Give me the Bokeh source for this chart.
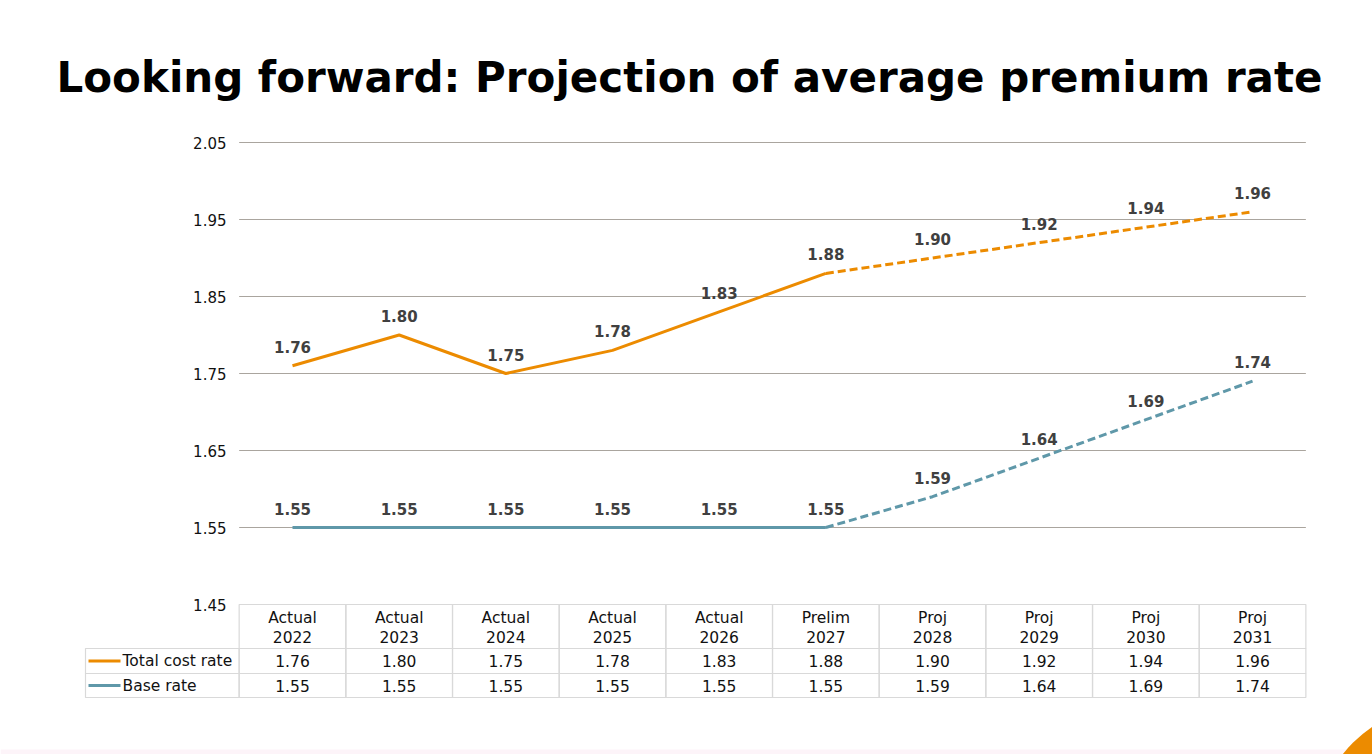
from bokeh.plotting import figure
from bokeh.models import Range1d
from bokeh.embed import file_html
from bokeh.resources import INLINE
from bokeh.core.properties import value

# ---------------- data ----------------
title_text = "Looking forward: Projection of average premium rate"
periods = ["Actual", "Actual", "Actual", "Actual", "Actual", "Prelim", "Proj", "Proj", "Proj", "Proj"]
years = ["2022", "2023", "2024", "2025", "2026", "2027", "2028", "2029", "2030", "2031"]
total_cost_rate = [1.76, 1.80, 1.75, 1.78, 1.83, 1.88, 1.90, 1.92, 1.94, 1.96]
base_rate = [1.55, 1.55, 1.55, 1.55, 1.55, 1.55, 1.59, 1.64, 1.69, 1.74]
series_names = ["Total cost rate", "Base rate"]
y_ticks = [1.45, 1.55, 1.65, 1.75, 1.85, 1.95, 2.05]
tick_labels = ["1.45", "1.55", "1.65", "1.75", "1.85", "1.95", "2.05"]
last_actual = 5  # index of "Prelim 2027": solid up to here, dashed after

# ---------------- layout / style ----------------
W, H = 1372, 754
X0, DX = 292.0, 106.67          # pixel of first category, pixel step
PIX_TOP, PIX_BOT = 142.0, 604.0  # pixel rows of 2.05 and 1.45
S = (y_ticks[-1] - y_ticks[0]) / (PIX_BOT - PIX_TOP)
Y_END = y_ticks[-1] + PIX_TOP * S
Y_START = y_ticks[0] - (H - PIX_BOT) * S

def xp(px):
    return (px - X0) / DX

def yp(py):
    return Y_END - py * S

ORANGE = "#ec8b00"
BLUE = "#5f98a9"
GRID = "#aaa59e"
CELL = "#d9d9d9"
FONT = value("DejaVu Sans")

p = figure(width=W, height=H, output_backend="svg", toolbar_location=None,
           x_range=Range1d(xp(0), xp(W)), y_range=Range1d(Y_START, Y_END),
           min_border=0, outline_line_color=None, background_fill_color="white",
           border_fill_color="white")
p.axis.visible = False
p.grid.visible = False

n = len(years)
idx = list(range(n))

# bottom decoration
p.quad(left=xp(0), right=xp(W), top=yp(749), bottom=yp(H), fill_color="#fdf4f9", line_color=None)
p.scatter([xp(1445)], [yp(835)], size=262, fill_color=ORANGE, line_color=None)

# title
p.text([xp(689)], [yp(77)], text=[title_text], text_font=FONT, text_font_style="bold",
       text_font_size="42px", text_align="center", text_baseline="middle", text_color="black")

# grid lines (above bottom)
gy = y_ticks[1:]
p.segment(x0=[-0.5] * len(gy), x1=[n - 0.5] * len(gy), y0=gy, y1=gy, line_color=GRID, line_width=1)

# y tick labels
p.text([xp(226)] * len(y_ticks), y_ticks, text=tick_labels, text_font=FONT, text_font_size="15px",
       text_align="right", text_baseline="middle", text_color="#111111")

# lines
for vals, col in [(total_cost_rate, ORANGE), (base_rate, BLUE)]:
    p.line(idx[:last_actual + 1], vals[:last_actual + 1], line_color=col, line_width=3)
    p.line(idx[last_actual:], vals[last_actual:], line_color=col, line_width=3, line_dash="8 4")
    p.text(idx, vals, text=[f"{v:.2f}" for v in vals], y_offset=-19, text_font=FONT,
           text_font_style="bold", text_font_size="15px", text_align="center",
           text_baseline="middle", text_color="#404040")

# data table
h_top, h_bot = yp(604), yp(648)
rows = [(yp(648), yp(673)), (yp(673), yp(697))]
p.quad(left=[i - 0.5 for i in idx], right=[i + 0.5 for i in idx], top=[h_top] * n, bottom=[h_bot] * n,
       fill_alpha=0, line_color=CELL, line_width=1.2)
for (rt, rb) in rows:
    p.quad(left=[xp(85)] + [i - 0.5 for i in idx], right=[-0.5] + [i + 0.5 for i in idx],
           top=[rt] * (n + 1), bottom=[rb] * (n + 1), fill_alpha=0, line_color=CELL, line_width=1.2)

p.text(idx, [yp(617)] * n, text=periods, text_font=FONT, text_font_size="15.5px",
       text_align="center", text_baseline="middle", text_color="#111111")
p.text(idx, [yp(636)] * n, text=years, text_font=FONT, text_font_size="15.5px",
       text_align="center", text_baseline="middle", text_color="#111111")

for (rt, rb), vals, col, name in zip(rows, [total_cost_rate, base_rate], [ORANGE, BLUE], series_names):
    yc = (rt + rb) / 2
    p.text(idx, [yc] * n, text=[f"{v:.2f}" for v in vals], text_font=FONT, text_font_size="15.5px",
           text_align="center", text_baseline="middle", text_color="#111111")
    p.segment(x0=[xp(88)], x1=[xp(120)], y0=[yc], y1=[yc], line_color=col, line_width=3)
    p.text([xp(122)], [yc], text=[name], text_font=FONT, text_font_size="15.5px",
           text_align="left", text_baseline="middle", text_color="#111111")

open("out.html", "w").write(file_html(p, INLINE))
